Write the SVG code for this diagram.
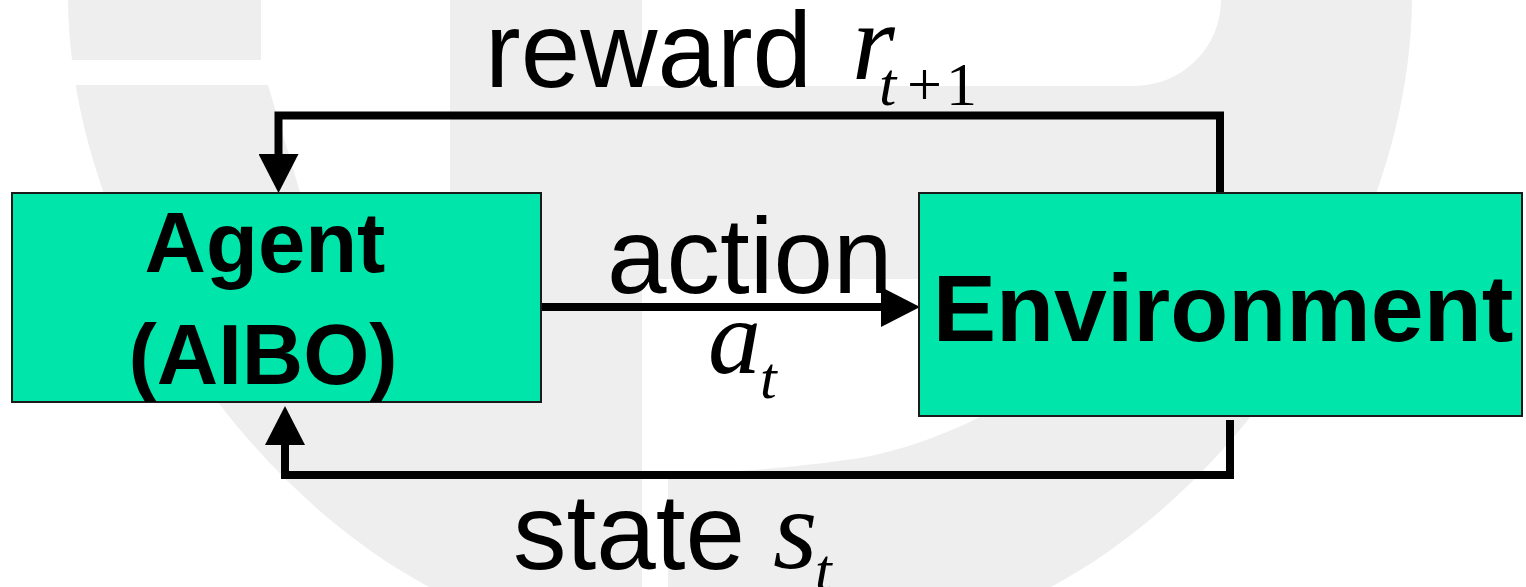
<svg xmlns="http://www.w3.org/2000/svg" width="1526" height="587" viewBox="0 0 1526 587">
  <style>
    .bg { fill: #eeeeee; }
    .hole { fill: #ffffff; }
    .box { fill: #00e5aa; stroke: #1a1a1a; stroke-width: 2; }
    .wire { fill: none; stroke: #000; stroke-width: 8; stroke-linejoin: miter; }
    .lbl { font-family: "Liberation Sans", Arial, sans-serif; font-size: 107px; fill: #000; }
    .bold { font-family: "Liberation Sans", Arial, sans-serif; font-weight: bold; fill: #000; }
    .math { font-family: "Liberation Serif", "Times New Roman", serif; fill: #000; }
    .it { font-style: italic; }
  </style>
  <defs>
    <marker id="arrow" markerUnits="userSpaceOnUse" viewBox="0 0 39 40" markerWidth="39" markerHeight="40" refX="0" refY="20" orient="auto">
      <path d="M0,0 L39,20 L0,40 Z" fill="#000"/>
    </marker>
  </defs>

  <g id="background">
    <rect x="0" y="0" width="1526" height="587" fill="#ffffff"/>
    <path class="bg" d="M68,0 L1412,0 C1410,230 1250,480 1051,587 L429,587 C230,480 70,230 68,0 Z"/>
    <path class="hole" d="M0,60 L261,60 L261,0 L450,0 L450,390 L380,390 C340,330 320,260 300,192 L268,85 L0,85 Z"/>
    <path class="hole" d="M642,0 L1221,0 A87,86 0 0 1 1134,86 L642,86 Z"/>
    <path class="hole" d="M642,279 L1100,279 L1100,340 C1050,380 960,440 860,458 C780,470 700,474 668,474 L668,587 L642,587 Z"/>
  </g>

  <g id="connectors">
    <path class="wire" d="M1220,193 V115.5 H278.5 V154" marker-end="url(#arrow)"/>
    <path class="wire" d="M541,307 H881" marker-end="url(#arrow)"/>
    <path class="wire" d="M1230,420 V475 H285 V445" marker-end="url(#arrow)"/>
  </g>

  <g id="agent">
    <rect class="box" x="12" y="193" width="529" height="209"/>
    <text class="bold" x="265" y="272" font-size="85" text-anchor="middle">Agent</text>
    <text class="bold" x="263" y="384" font-size="85" text-anchor="middle">(AIBO)</text>
  </g>

  <g id="environment">
    <rect class="box" x="919" y="193" width="603" height="223"/>
    <text class="bold" x="1223" y="341" font-size="95" text-anchor="middle">Environment</text>
  </g>

  <g id="labels">
    <text class="lbl" x="485" y="87">reward</text>
    <text class="math it" x="852" y="79" font-size="110">r</text>
    <text class="math" y="105" font-size="62"><tspan class="it" x="879">t</tspan><tspan x="907">+</tspan><tspan x="946">1</tspan></text>

    <text class="lbl" x="607" y="293">action</text>
    <text class="math it" x="708" y="373" font-size="106">a</text>
    <text class="math it" x="760" y="398" font-size="60">t</text>

    <text class="lbl" x="513" y="569">state</text>
    <text class="math it" x="773" y="568" font-size="114">s</text>
    <text class="math it" x="815" y="590" font-size="60">t</text>
  </g>
</svg>
